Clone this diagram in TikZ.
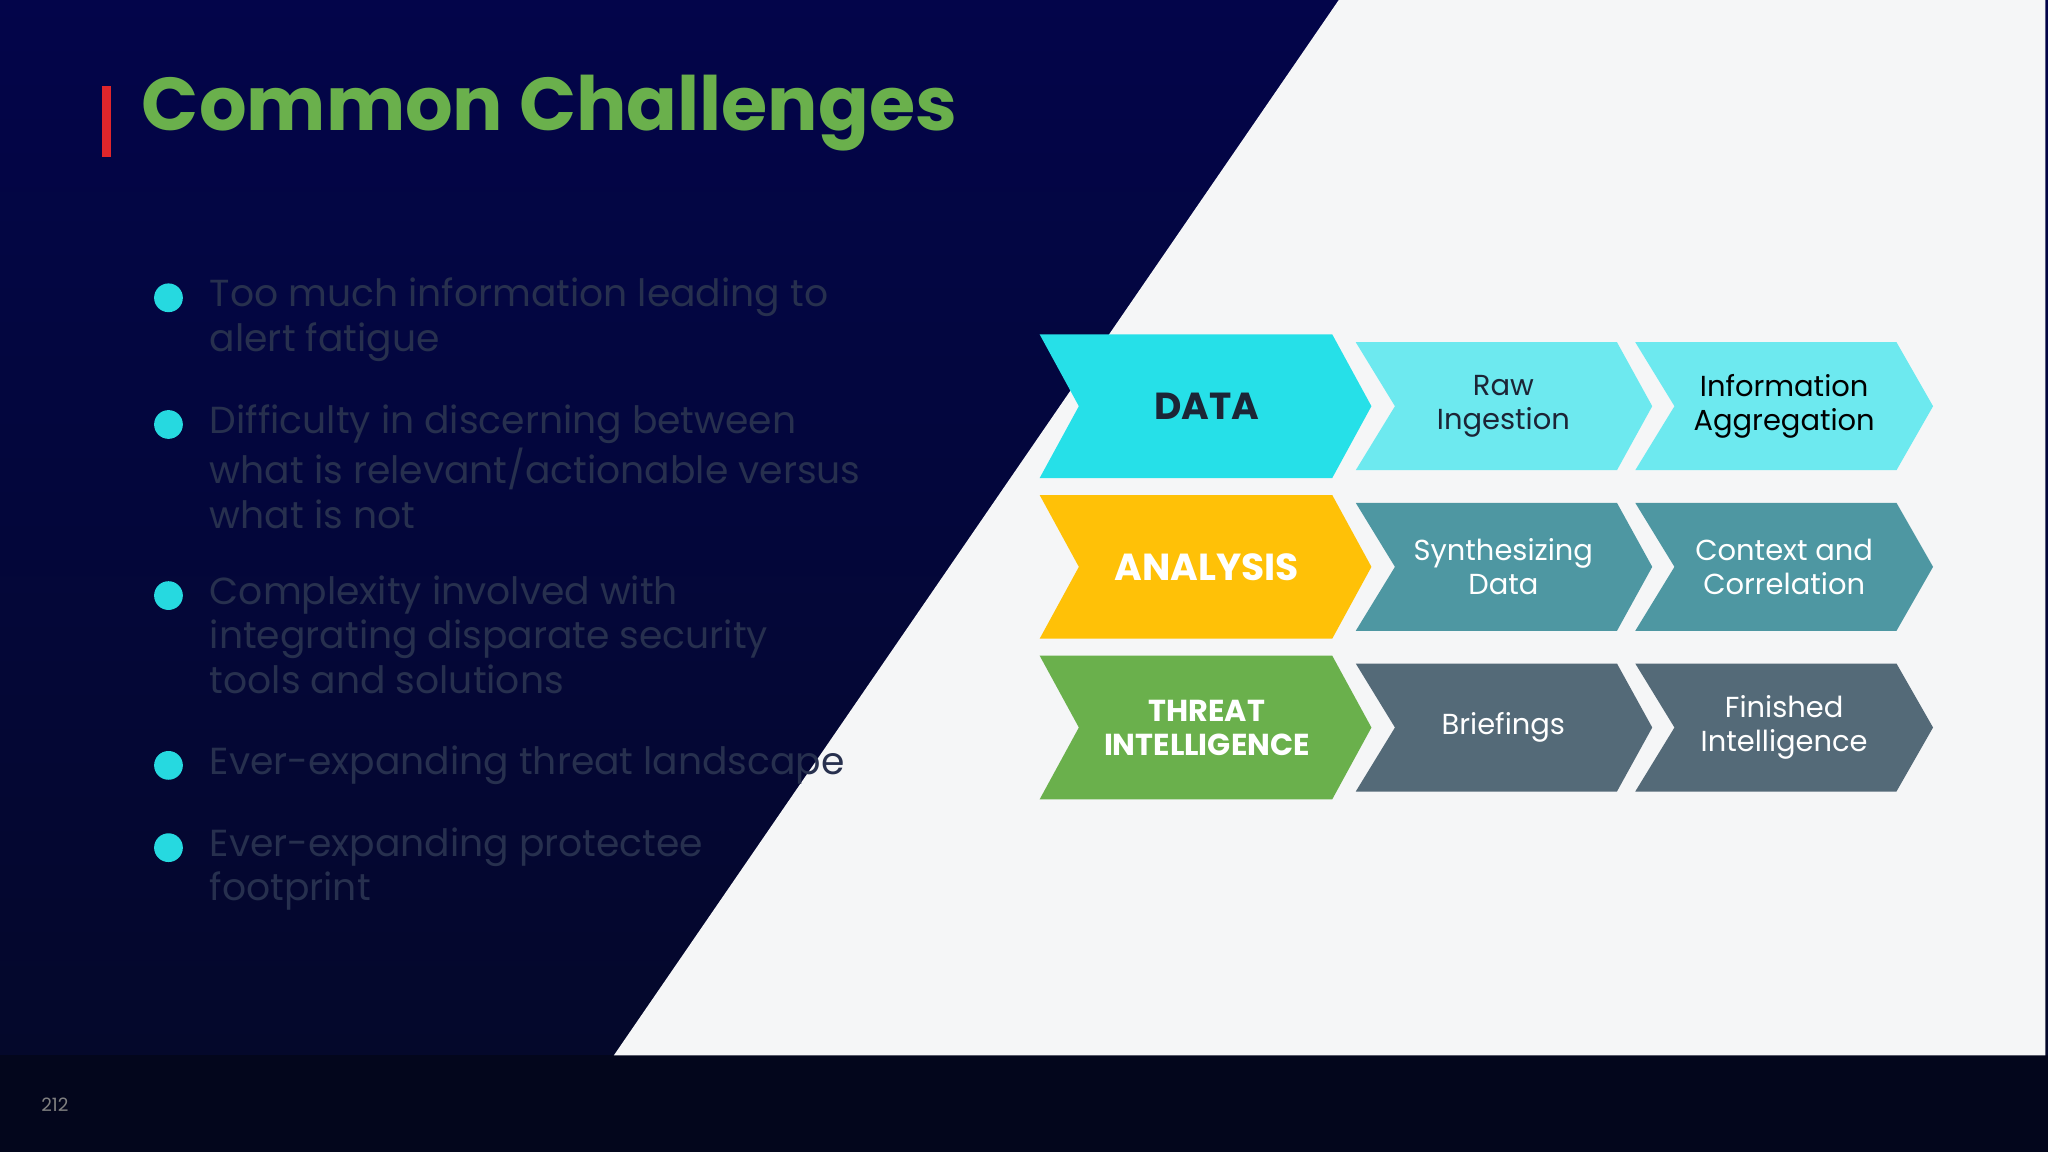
\documentclass[tikz,border=0pt]{standalone}
\usepackage{fontspec}
\setmainfont{Poppins}
\definecolor{navyT}{HTML}{03054A}
\definecolor{navyB}{HTML}{040828}
\definecolor{band}{HTML}{03061C}
\definecolor{paper}{HTML}{F5F6F7}
\definecolor{titleg}{HTML}{6AB04C}
\definecolor{redbar}{HTML}{E0262B}
\definecolor{bultxt}{HTML}{27304E}
\definecolor{bulcyan}{HTML}{26D9E0}
\definecolor{cA}{HTML}{26E0E8}
\definecolor{cAs}{HTML}{6DE9EF}
\definecolor{cB}{HTML}{FFC107}
\definecolor{cBs}{HTML}{4E97A2}
\definecolor{cC}{HTML}{6AB04C}
\definecolor{cCs}{HTML}{546A78}
\definecolor{darktxt}{HTML}{1C2536}
\tikzset{
 bul/.style={anchor=north west,align=left,text=bultxt,font=\fontsize{8.2}{9.7}\selectfont,inner sep=0pt},
 dot/.style={circle,fill=bulcyan,inner sep=0pt,minimum size=2.2mm},
 big/.style={font=\bfseries\fontsize{7.6}{7.6}\selectfont,align=center},
 sml/.style={font=\fontsize{6.3}{7.4}\selectfont,align=center}
}
\newcommand{\chev}[7]{% x1 x2 ytop ybot notch tipdepth color
 \fill[#7] (#1,#3) -- ({#2-#6},#3) -- (#2,{(#3+#4)/2}) -- ({#2-#6},#4) -- (#1,#4) -- ({#1+#5},{(#3+#4)/2}) -- cycle;}
\begin{document}
\begin{tikzpicture}[x=0.01cm,y=-0.01cm]
\useasboundingbox (0,0) rectangle (1568,882);
\shade[top color=navyT,bottom color=navyB] (0,0) rectangle (1568,882);
\fill[band] (0,808) rectangle (1568,882);
\fill[paper] (1025,0) -- (1566,0) -- (1566,808) -- (470,808) -- cycle;
\fill[redbar] (78,66) rectangle (85,120);
\node[anchor=base west,text=titleg,font=\bfseries\fontsize{16.3}{16.3}\selectfont,inner sep=0pt] (title) at (108,100) {Common Challenges};
\foreach \y/\t [count=\i] in {212/{Too much information leading to\\alert fatigue},309/{Difficulty in discerning between\\what is relevant/actionable versus\\what is not},440/{Complexity involved with\\integrating disparate security\\tools and solutions},570/{Ever-expanding threat landscape},633/{Ever-expanding protectee\\footprint}}{
 \node[bul] (b\i) at (160,\y) {\t};
 \node[dot] (d\i) at (129,\y+16) {};
}
\chev{796}{1050}{256}{366}{30}{30}{cA}
\chev{1038}{1265}{262}{360}{30}{27}{cAs}
\chev{1252}{1480}{262}{360}{30}{28}{cAs}
\chev{796}{1050}{379}{489}{30}{30}{cB}
\chev{1038}{1265}{385}{483}{30}{27}{cBs}
\chev{1252}{1480}{385}{483}{30}{28}{cBs}
\chev{796}{1050}{502}{612}{30}{30}{cC}
\chev{1038}{1265}{508}{606}{30}{27}{cCs}
\chev{1252}{1480}{508}{606}{30}{28}{cCs}
\node[big,text=darktxt,font=\bfseries\fontsize{8.2}{8.2}\selectfont] (data) at (924,311) {DATA};
\node[sml,text=darktxt] (raw) at (1151,311) {Raw\\Ingestion};
\node[sml,text=black] (agg) at (1366,311) {Information\\Aggregation};
\node[big,text=white,font=\bfseries\fontsize{8.2}{8.2}\selectfont] (ana) at (924,434) {ANALYSIS};
\node[sml,text=white] (syn) at (1151,434) {Synthesizing\\Data};
\node[sml,text=white] (ctx) at (1366,434) {Context and\\Correlation};
\node[big,text=white,font=\bfseries\fontsize{6.6}{7.4}\selectfont] (ti) at (924,557) {THREAT\\INTELLIGENCE};
\node[sml,text=white] (brf) at (1151,557) {Briefings};
\node[sml,text=white] (fin) at (1366,557) {Finished\\Intelligence};
\node[text=gray,font=\fontsize{4}{4}\selectfont] (pg) at (42,846) {212};
\end{tikzpicture}
\end{document}
